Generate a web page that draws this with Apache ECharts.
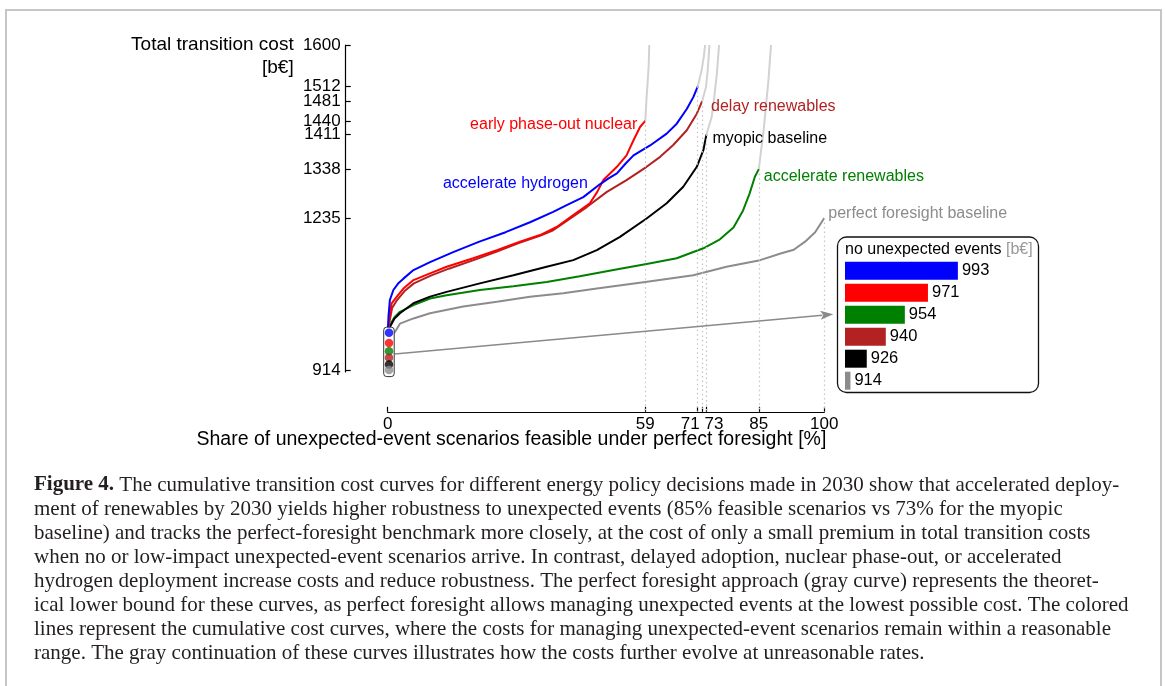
<!DOCTYPE html>
<html><head><meta charset="utf-8">
<script src="https://cdn.jsdelivr.net/npm/echarts@6/dist/echarts.min.js"></script>
<style>html,body{margin:0;padding:0;background:#fff}#c{width:1165px;height:686px}</style>
</head><body><div id="c"></div>
<script>
// ---------- data (x: share of scenarios feasible [%], y: total transition cost [b€]) ----------
const hydrogen = [[0,993],[0.2,1030],[0.5,1062],[1.3,1083],[2.5,1098],[3.6,1107],[5.9,1125],[9.7,1142],[15,1163],[21,1185],[27,1205],[32.6,1226],[37.9,1248],[41,1262],[44.8,1279],[48.6,1306],[50.5,1318],[52.5,1329],[54.5,1350],[56.3,1367],[60.1,1388],[63.9,1413],[66.2,1434],[68.5,1465],[70,1490],[71,1512]];
const nuclear = [[0,971],[0.3,1020],[0.9,1055],[2.1,1069],[3.6,1086],[5.9,1104],[9.7,1118],[13.5,1132],[19.6,1150],[25,1167],[30.3,1185],[34.9,1199],[38.7,1216],[42.5,1241],[46.3,1266],[48,1290],[49.4,1315],[52.5,1343],[54.7,1367],[56.3,1399],[57.8,1427],[59,1440]];
const delayRen = [[0,940],[0.3,1010],[1,1045],[2,1060],[4,1082],[6,1097],[10,1114],[14,1128],[20,1147],[25,1164],[30,1182],[35,1198],[37.9,1209],[41.5,1232],[45.6,1258],[50.2,1290],[54.7,1315],[59.3,1343],[62.4,1364],[65.4,1389],[68.5,1420],[70.8,1455],[72,1481]];
const myopic = [[0,926],[0.2,980],[0.5,1005],[1.5,1022],[2.8,1034],[5.9,1055],[9.7,1069],[13.5,1079],[21.1,1097],[28.8,1114],[36.4,1132],[42.5,1146],[47.9,1167],[53.2,1195],[59.3,1234],[63.9,1266],[67.7,1301],[70.8,1343],[72.3,1378],[73,1411]];
const accelRen = [[0,954],[0.2,990],[0.5,1008],[1.5,1025],[2.8,1037],[5.9,1051],[9.7,1065],[13.5,1072],[21.1,1083],[28.8,1091],[36.4,1100],[44,1112],[51.7,1125],[59.3,1138],[66.2,1150],[72.3,1171],[76.1,1190],[79.2,1215],[81.4,1251],[82.9,1287],[84.1,1322],[85,1338]];
const perfect = [[0,914],[0.3,960],[0.8,985],[1.7,995],[2.8,1012],[5.9,1023],[9.7,1034],[17.3,1048],[25,1058],[32.6,1069],[40.2,1076],[47.9,1086],[59,1100],[70,1114],[77.6,1132],[85.3,1146],[90,1160],[93,1168],[95.6,1185],[97.9,1205],[99.3,1225],[100,1235]];
// gray continuations (costs at unreasonable rates)
const nuclearCont = [[59,1440],[59.3,1490],[59.6,1530],[59.8,1561],[59.9,1600]];
const hydrogenCont = [[71,1512],[71.9,1547],[72.4,1575],[72.7,1600]];
const delayCont = [[72,1481],[72.9,1511],[73.3,1547],[73.7,1600]];
const myopicCont = [[73,1411],[74.2,1448],[74.8,1490],[75.4,1540],[75.9,1600]];
const accelRenCont = [[85,1338],[86.1,1420],[87.2,1525],[87.8,1600]];
// costs with no unexpected events
const scenarioNames = ['accelerate hydrogen','early phase-out nuclear','accelerate renewables','delay renewables','myopic baseline','perfect foresight baseline'];
const noEventCost = [993, 971, 954, 940, 926, 914];
// ticks
const yTickValues = [914, 1235, 1338, 1411, 1440, 1481, 1512, 1600];
const xTickValues = [0, 59, 71, 72, 73, 85, 100];
const xLabelValues = [0, 59, 71, 73, 85, 100];
const captionLines = [
  '{b|Figure 4.} The cumulative transition cost curves for different energy policy decisions made in 2030 show that accelerated deploy-',
  'ment of renewables by 2030 yields higher robustness to unexpected events (85% feasible scenarios vs 73% for the myopic',
  'baseline) and tracks the perfect-foresight benchmark more closely, at the cost of only a small premium in total transition costs',
  'when no or low-impact unexpected-event scenarios arrive. In contrast, delayed adoption, nuclear phase-out, or accelerated',
  'hydrogen deployment increase costs and reduce robustness. The perfect foresight approach (gray curve) represents the theoret-',
  'ical lower bound for these curves, as perfect foresight allows managing unexpected events at the lowest possible cost. The colored',
  'lines represent the cumulative cost curves, where the costs for managing unexpected-event scenarios remain within a reasonable',
  'range. The gray continuation of these curves illustrates how the costs further evolve at unreasonable rates.'
];

// ---------- styling ----------
const SANS = "'Liberation Sans', Arial, Helvetica, sans-serif";
const SERIF = "'Liberation Serif', 'Times New Roman', serif";
const C = { hydrogen:'#0000ff', nuclear:'#ff0000', renew:'#008000', delay:'#b22222', myopic:'#000000', perfect:'#8c8c8c', cont:'#d2d2d2' };
const dotColors = [C.hydrogen, C.nuclear, C.renew, C.delay, C.myopic, C.perfect];
const CAP = 21;

const last = a => a[a.length - 1];
const allCurves = [nuclear, hydrogen, delayRen, myopic, accelRen, perfect];
const limitLines = allCurves.map(c => [{ coord: last(c) }, { coord: [last(c)[0], 826] }]);

function curve(name, data, color, lab) {
  return {
    name, type: 'line', xAxisIndex: 1, yAxisIndex: 1, data, showSymbol: false, z: 3,
    lineStyle: { color, width: 2 }, itemStyle: { color }, silent: true, animation: false,
    markPoint: lab ? {
      symbol: 'circle', symbolSize: 0, silent: true, animation: false,
      data: [{ coord: lab.at, label: { show: true, formatter: name, position: lab.pos, distance: lab.d, offset: lab.off,
        color, fontSize: 16, fontFamily: SANS } }]
    } : undefined
  };
}
function cont(data) {
  return { type: 'line', xAxisIndex: 1, yAxisIndex: 1, data, showSymbol: false, z: 1, silent: true,
    lineStyle: { color: C.cont, width: 2 } };
}

const chart = echarts.init(document.getElementById('c'), null, { renderer: 'canvas' });
chart.setOption({
  animation: false,
  backgroundColor: '#ffffff',
  textStyle: { fontFamily: SANS },
  grid: [
    { left: 387.7, right: 340.7, top: 45, bottom: 314, outerBoundsMode: 'none', containLabel: false },
    { left: 387.7, right: 340.7, top: 45, bottom: 274.2, outerBoundsMode: 'none', containLabel: false },
    { left: 845, width: 136, top: 259.7, height: 132, outerBoundsMode: 'none', containLabel: false }
  ],
  xAxis: [
    { gridIndex: 0, type: 'value', min: 0, max: 100, show: false },
    { gridIndex: 1, type: 'value', min: 0, max: 100, position: 'bottom',
      axisLine: { show: true, onZero: false, lineStyle: { color: '#000', width: 1.2 } },
      axisTick: { show: true, inside: true, length: 5, customValues: xTickValues, lineStyle: { color: '#000', width: 1.2 } },
      axisLabel: { show: true, customValues: xLabelValues, margin: 4, color: '#000', fontSize: 17, fontFamily: SANS,
        hideOverlap: false, showMinLabel: true, showMaxLabel: true,
        formatter: v => v === 71 ? '{l|71}' : v === 73 ? '{r|73}' : String(v),
        rich: { l: { fontSize: 17, color: '#000', padding: [0, 15, 0, 0] }, r: { fontSize: 17, color: '#000', padding: [0, 0, 0, 15] } } },
      splitLine: { show: false },
      name: '{a|Share of unexpected-event scenarios feasible under perfect foresight [%]}',
      nameLocation: 'end', nameGap: 2, nameMoveOverlap: false,
      nameTextStyle: { color: '#000', fontSize: 19.5, fontFamily: SANS, align: 'right', verticalAlign: 'top',
        rich: { a: { color: '#000', fontSize: 19.5, fontFamily: SANS, padding: [18, 0, 0, 0] } } } },
    { gridIndex: 2, type: 'value', min: 910, max: 1010, show: false }
  ],
  yAxis: [
    { gridIndex: 0, type: 'value', min: 910, max: 1600, offset: 42,
      axisLine: { show: true, onZero: false, lineStyle: { color: '#000', width: 1.2 } },
      axisTick: { show: true, inside: true, length: 5, customValues: yTickValues, lineStyle: { color: '#000', width: 1.2 } },
      axisLabel: { show: true, customValues: yTickValues, margin: 5, color: '#000', fontSize: 17, fontFamily: SANS,
        hideOverlap: false, showMinLabel: true, showMaxLabel: true, formatter: v => String(v) },
      splitLine: { show: false },
      name: '{a|Total transition cost}\n{a|[b€]}', nameLocation: 'end', nameGap: 12, nameMoveOverlap: false,
      nameTextStyle: { color: '#000', fontSize: 19, fontFamily: SANS, align: 'right', verticalAlign: 'top', lineHeight: 23,
        rich: { a: { color: '#000', fontSize: 19, fontFamily: SANS, lineHeight: 23, padding: [0, 52, 0, 0] } } } },
    { gridIndex: 1, type: 'value', min: 826, max: 1600, show: false },
    { gridIndex: 2, type: 'category', data: scenarioNames, inverse: true, show: false }
  ],
  series: [
    cont(nuclearCont), cont(hydrogenCont), cont(delayCont), cont(myopicCont), cont(accelRenCont),
    {
      name: 'feasibility limits', type: 'line', xAxisIndex: 1, yAxisIndex: 1, data: [], silent: true, z: 0,
      markLine: { silent: true, symbol: ['none', 'none'], animation: false, label: { show: false },
        lineStyle: { color: '#c4c4c4', width: 1.2, type: [1.5, 3] }, data: limitLines }
    },
    curve('perfect foresight baseline', perfect, C.perfect, { at: last(perfect), pos: 'right', d: 4, off: [0, -4] }),
    curve('accelerate renewables', accelRen, C.renew, { at: last(accelRen), pos: 'right', d: 5, off: [0, 7] }),
    curve('myopic baseline', myopic, C.myopic, { at: last(myopic), pos: 'right', d: 6, off: [0, 4] }),
    curve('delay renewables', delayRen, C.delay, { at: last(delayRen), pos: 'right', d: 9, off: [0, 5] }),
    curve('early phase-out nuclear', nuclear, C.nuclear, { at: last(nuclear), pos: 'left', d: 8, off: [0, 4] }),
    curve('accelerate hydrogen', hydrogen, C.hydrogen, { at: hydrogen.find(p => p[0] === 48.6), pos: 'left', d: 12, off: [0, -1] }),
    {
      // rounded box around the no-event markers + arrow to the inset
      type: 'custom', xAxisIndex: 1, yAxisIndex: 1, z: 5, silent: true, clip: false,
      data: [[0, Math.max(...noEventCost), Math.min(...noEventCost)]],
      renderItem(params, api) {
        const top = api.coord([api.value(0), api.value(1)]);
        const bot = api.coord([api.value(0), api.value(2)]);
        const p0 = api.coord([0, 948]); p0[0] += 7;
        const p1 = api.coord([100, 1032]); p1[0] += 9;
        const dx = p1[0] - p0[0], dy = p1[1] - p0[1], L = Math.hypot(dx, dy);
        const ux = dx / L, uy = dy / L, hl = 13, hw = 4.5;
        const bx = p1[0] - ux * hl, by = p1[1] - uy * hl;
        return { type: 'group', children: [
          { type: 'line', shape: { x1: p0[0], y1: p0[1], x2: bx + ux * 2, y2: by + uy * 2 }, style: { stroke: '#8a8a8a', lineWidth: 1.5 } },
          { type: 'polygon', shape: { points: [[p1[0], p1[1]], [bx - uy * hw, by + ux * hw], [bx + ux * 3, by + uy * 3], [bx + uy * hw, by - ux * hw]] }, style: { fill: '#8a8a8a' } },
          { type: 'rect', shape: { x: top[0] - 4, y: top[1] - 5.5, width: 10.5, height: bot[1] - top[1] + 12, r: 3 }, style: { fill: '#ffffff', stroke: '#333', lineWidth: 1 } }
        ] };
      }
    },
    {
      name: 'no unexpected events', type: 'scatter', xAxisIndex: 1, yAxisIndex: 1, z: 6, silent: true,
      symbolSize: 8.5, symbolOffset: [1.3, 0],
      data: noEventCost.map((v, i) => ({ value: [0, v], itemStyle: { color: dotColors[i] } }))
    },
    {
      name: 'no unexpected events [b€]', type: 'bar', xAxisIndex: 2, yAxisIndex: 2, barWidth: 18, clip: true, silent: true,
      data: noEventCost.map((v, i) => ({ value: v, itemStyle: { color: dotColors[i] } })),
      label: { show: true, position: 'right', distance: 4, color: '#000', fontSize: 16.5, fontFamily: SANS, formatter: '{c}' }
    }
  ],
  graphic: [
    { type: 'rect', silent: true, z: -10, shape: { x: 6, y: 10, width: 1155, height: 700 }, style: { fill: 'none', stroke: '#c6c6c6', lineWidth: 2 } },
    { type: 'rect', silent: true, shape: { x: 837.5, y: 237, width: 201, height: 155.5, r: 9 }, style: { fill: 'none', stroke: '#111', lineWidth: 1.3 } },
    { type: 'text', silent: true, x: 845, y: 250, style: { text: 'no unexpected events {g|[b€]}', fontSize: 16, fontFamily: SANS, fill: '#000', verticalAlign: 'middle',
      rich: { g: { fontSize: 16, fontFamily: SANS, fill: '#999' } } } },
    { type: 'text', silent: true, x: 34, y: 473, style: { text: captionLines.join('\n'), fontSize: CAP, fontFamily: SERIF, fill: '#231f20', lineHeight: 24, verticalAlign: 'top',
      rich: { b: { fontSize: CAP, fontFamily: SERIF, fontWeight: 'bold', fill: '#231f20', lineHeight: 24 } } } }
  ]
});
</script></body></html>
